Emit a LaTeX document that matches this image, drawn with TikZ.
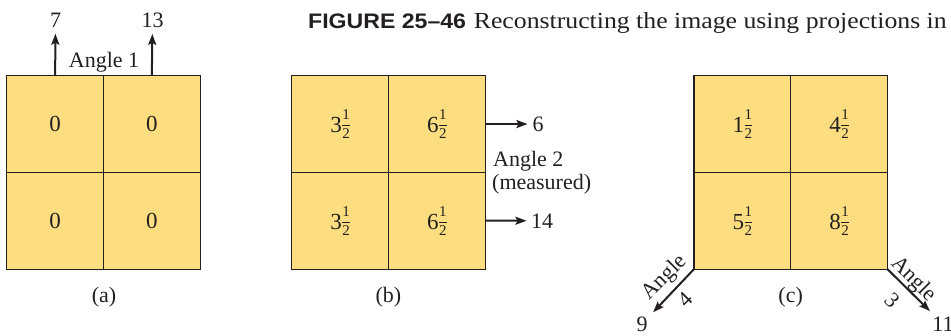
\documentclass[tikz,border=0pt]{standalone}
\usepackage{fontspec}
\setmainfont{Liberation Serif}
\newfontfamily\figfont{Liberation Sans}[FakeStretch=1.1]
\newfontfamily\titlefont{Liberation Serif}[FakeStretch=1.12]
\usetikzlibrary{positioning,arrows.meta}
\definecolor{ink}{RGB}{35,31,32}
\definecolor{cellfill}{RGB}{252,222,128}
\newcommand{\half}[1]{#1\kern0.5pt\raisebox{-6pt}{\fontsize{15}{15}\selectfont
  \vbox{\halign{\hfil##\hfil\cr 1\cr\noalign{\kern5.5pt\hrule height0.7pt\kern3pt}2\cr}}}}

\begin{document}
\begin{tikzpicture}[x=1pt,y=-1pt,>={Stealth[length=11pt,width=8pt,inset=2pt]},
  font=\fontsize{22}{24}\selectfont,text=ink,
  cell/.style={fill=cellfill,minimum size=96.7pt,inner sep=0pt,outer sep=0pt,font=\fontsize{23}{24}\selectfont},
  grid/.style={draw=ink,line width=1.1pt},
  proj/.style={->,draw=ink,line width=2pt},
  tilt/.style={inner sep=1pt}]
  \useasboundingbox (0,0) rectangle (951,336);
  % ---- title ----
  \node[anchor=base west,inner sep=0pt] (title) at (308,29)
    {{\figfont\fontsize{21}{24}\selectfont\bfseries FIGURE 25–46}\hspace{0.35em}{\titlefont\fontsize{23}{24}\selectfont Reconstructing the image using projections in}};
  % ---- (a) start ----
  \node[cell] (a11) at (55.15,124.05) {0};
  \node[cell,right=0pt of a11] (a12) {0};
  \node[cell,below=0pt of a11] (a21) {0};
  \node[cell,right=0pt of a21] (a22) {0};
  \draw[grid] (a11.north west) rectangle (a22.south east)
    (a11.north east) -- (a21.south east) (a11.south west) -- (a12.south east);
  \node (t7) at (55.5,20) {7};
  \node (t13) at (152.5,20) {13};
  \draw[proj,shorten >=3pt] (a11.north) -- (t7);
  \draw[proj,shorten >=3pt] (a12.north) -- (t13);
  \node[anchor=base] (ang1) at (104,68) {Angle 1};
  \node[anchor=base] (capa) at (104,303) {(a)};
  % ---- (b) after angle 2 ----
  \node[cell] (b11) at (340.05,124.05) {\half{3}};
  \node[cell,right=0pt of b11] (b12) {\half{6}};
  \node[cell,below=0pt of b11] (b21) {\half{3}};
  \node[cell,right=0pt of b21] (b22) {\half{6}};
  \draw[grid] (b11.north west) rectangle (b22.south east)
    (b11.north east) -- (b21.south east) (b11.south west) -- (b12.south east);
  \node (t6) at (538,124.05) {6};
  \node (t14) at (542,220.75) {14};
  \draw[proj,shorten >=1.5pt] (b12.east) -- (t6);
  \draw[proj,shorten >=1pt] (b22.east) -- (t14);
  \node[anchor=base west,inner sep=0pt] (ang2) at (493,167) {Angle 2};
  \node[anchor=base west,inner sep=0pt] (meas) at (492,190) {(measured)};
  \node[anchor=base] (capb) at (388.4,303) {(b)};
  % ---- (c) after angles 3 and 4 ----
  \node[cell] (c11) at (742.35,124.05) {\half{1}};
  \node[cell,right=0pt of c11] (c12) {\half{4}};
  \node[cell,below=0pt of c11] (c21) {\half{5}};
  \node[cell,right=0pt of c21] (c22) {\half{8}};
  \draw[grid] (c11.north west) rectangle (c22.south east)
    (c11.north east) -- (c21.south east) (c11.south west) -- (c12.south east);
  \node (t9) at (642,324) {9};
  \node (t11) at (943,324) {11};
  \draw[proj,shorten >=3pt] (c21.south west) -- (t9);
  \draw[proj,shorten >=3pt] (c22.south east) -- (t11);
  \node[tilt,rotate=45] (ang4) at (665,278) {Angle};
  \node[tilt,rotate=45] (n4) at (685,299) {4};
  \node[tilt,rotate=-45] (ang3) at (913,280) {Angle};
  \node[tilt,rotate=-45] (n3) at (892,300) {3};
  \node[anchor=base] (capc) at (790.7,303) {(c)};
\end{tikzpicture}
\end{document}
